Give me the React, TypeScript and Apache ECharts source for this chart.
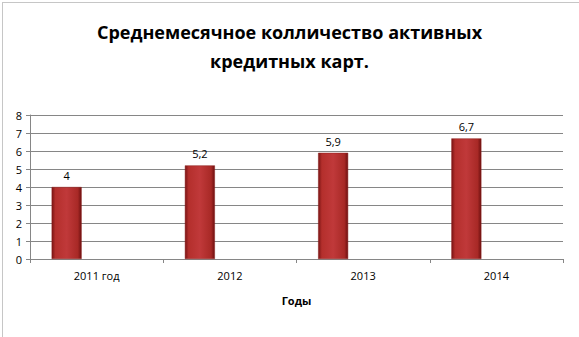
import React, { useEffect, useRef } from "react";
import * as echarts from "echarts";

const categories = ["2011 год", "2012", "2013", "2014"];
const values = [4, 5.2, 5.9, 6.7];
const emptySeries = [null, null, null, null];
const yTicks = [0, 1, 2, 3, 4, 5, 6, 7, 8];
const titleText = "Среднемесячное колличество активных\nкредитных карт.";
const xAxisName = "Годы";

export default function App() {
  const ref = useRef<HTMLDivElement>(null);
  useEffect(() => {
    if (!ref.current) return;
    const chart = echarts.init(ref.current, null, { renderer: "svg" });
    const font = "'Open Sans', 'Noto Sans', sans-serif";
    chart.setOption({
      animation: false,
      backgroundColor: "#ffffff",
      title: {
        text: titleText,
        left: "center",
        top: 12,
        textStyle: {
          fontFamily: font,
          fontSize: 18,
          fontWeight: "bold",
          color: "#000",
          lineHeight: 29,
        },
      },
      graphic: [
        {
          type: "rect",
          left: 0,
          top: 0,
          shape: { width: 578, height: 336 },
          style: { fill: "none", stroke: "#8c8c8c", lineWidth: 1, lineDash: [1, 1] },
        },
      ],
      grid: { left: 30, right: 16, top: 115, bottom: 78, containLabel: false },
      xAxis: {
        type: "category",
        data: categories,
        name: xAxisName,
        nameLocation: "middle",
        nameGap: 36,
        nameTextStyle: { fontFamily: font, fontSize: 11, fontWeight: "bold", color: "#000" },
        axisLine: { lineStyle: { color: "#868686", width: 1 } },
        axisTick: { show: true, length: 4, alignWithLabel: false, lineStyle: { color: "#868686" } },
        axisLabel: { fontFamily: font, fontSize: 11, color: "#000", margin: 11 },
      },
      yAxis: {
        type: "value",
        min: yTicks[0],
        max: yTicks[yTicks.length - 1],
        interval: 1,
        axisLine: { show: true, lineStyle: { color: "#868686", width: 1 } },
        axisTick: { show: true, length: 4, lineStyle: { color: "#868686" } },
        axisLabel: { fontFamily: font, fontSize: 11, color: "#000", margin: 8 },
        splitLine: { show: true, lineStyle: { color: "#868686", width: 1 } },
      },
      series: [
        {
          type: "bar",
          data: values,
          barWidth: 30,
          barGap: "100%",
          itemStyle: {
            color: new echarts.graphic.LinearGradient(0, 0, 1, 0, [
              { offset: 0, color: "#7a1414" },
              { offset: 0.12, color: "#b42f2c" },
              { offset: 0.5, color: "#c0393a" },
              { offset: 0.88, color: "#a82926" },
              { offset: 1, color: "#6e1010" },
            ]),
            borderColor: "#8a1c1a",
            borderWidth: 0.5,
          },
          label: {
            show: true,
            position: "top",
            distance: 6,
            fontFamily: font,
            fontSize: 11,
            color: "#000",
            formatter: (p: any) => String(p.value).replace(".", ","),
          },
        },
        {
          type: "bar",
          data: emptySeries,
          barWidth: 30,
        },
      ],
    });
    return () => chart.dispose();
  }, []);
  return (
    <div
      ref={ref}
      style={{ position: "absolute", left: 0, top: 0, width: 579, height: 337 }}
    />
  );
}
